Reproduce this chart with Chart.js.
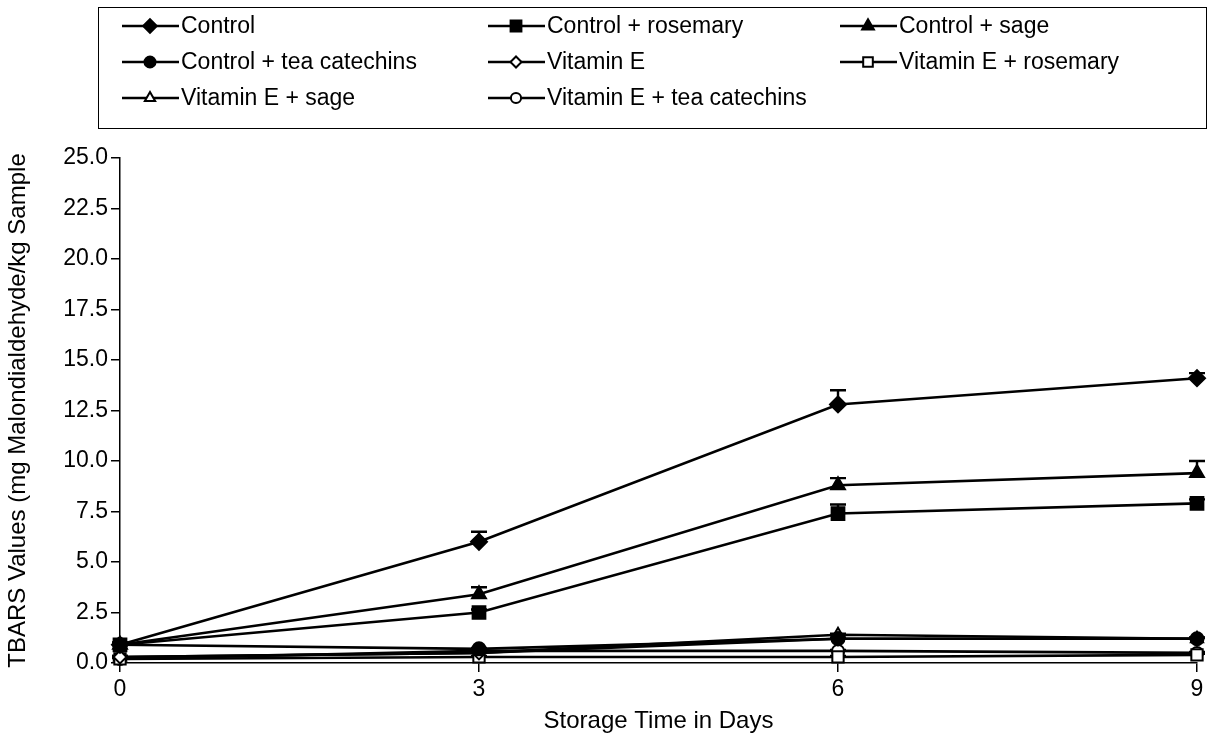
<!DOCTYPE html>
<html>
<head>
<meta charset="utf-8">
<script src="https://cdn.jsdelivr.net/npm/chart.js@4.4.1/dist/chart.umd.min.js"></script>
<style>
  html, body { margin:0; padding:0; background:#fff; }
  #wrap { width:1208px; height:738px; position:relative; }
</style>
</head>
<body>
<div id="wrap"><canvas id="c" width="1208" height="738"></canvas></div>
<script>
// storage days
const days = [0, 3, 6, 9];
const yTicks = [0, 2.5, 5, 7.5, 10, 12.5, 15, 17.5, 20, 22.5, 25];

// TBARS means
const control        = [0.9, 6.0, 12.8, 14.1];
const controlRos     = [0.9, 2.5, 7.4, 7.9];
const controlSage    = [0.9, 3.4, 8.8, 9.4];
const controlTea     = [0.9, 0.7, 1.2, 1.2];
const vitE           = [0.3, 0.5, 1.2, 1.2];
const vitERos        = [0.2, 0.3, 0.3, 0.4];
const vitESage       = [0.3, 0.5, 1.4, 1.2];
const vitETea        = [0.2, 0.6, 0.6, 0.5];

// upper error bars (SD)
const errControl     = [0.1, 0.5, 0.7, 0.25];
const errControlRos  = [0.1, 0.15, 0.45, 0.2];
const errControlSage = [0.1, 0.35, 0.35, 0.6];
const errSmall       = [0.05, 0.05, 0.05, 0.05];

const seriesNames = ['Control', 'Control + rosemary', 'Control + sage',
  'Control + tea catechins', 'Vitamin E', 'Vitamin E + rosemary',
  'Vitamin E + sage', 'Vitamin E + tea catechins'];

const FONT = '"Liberation Sans", Arial, sans-serif';

function mk(i, vals, errs, style, radius, filled) {
  return {
    label: seriesNames[i],
    data: days.map((d, k) => ({x: d, y: vals[k]})),
    errors: errs,
    clip: false,
    borderColor: '#000',
    borderWidth: 2.6,
    pointStyle: style,
    pointRadius: radius,
    pointHoverRadius: radius,
    pointBackgroundColor: filled ? '#000' : '#fff',
    pointBorderColor: '#000',
    pointBorderWidth: 2,
    tension: 0,
    fill: false
  };
}

const datasets = [
  mk(0, control, errControl, 'rectRot', 8, true),
  mk(1, controlRos, errControlRos, 'rect', 9, true),
  mk(2, controlSage, errControlSage, 'triangle', 8, true),
  mk(3, controlTea, errSmall, 'circle', 6.5, true),
  mk(4, vitE, errSmall, 'rectRot', 6.5, false),
  mk(5, vitERos, errSmall, 'rect', 8, false),
  mk(6, vitESage, errSmall, 'triangle', 7, false),
  mk(7, vitETea, errSmall, 'circle', 6, false)
];

// upward error bars with caps
const errorBars = {
  id: 'errorBars',
  beforeDatasetsDraw(chart) {
    const ctx = chart.ctx, ys = chart.scales.y, xs = chart.scales.x;
    ctx.save();
    ctx.strokeStyle = '#000';
    ctx.lineWidth = 2.4;
    chart.data.datasets.forEach(ds => {
      ds.data.forEach((p, k) => {
        const e = ds.errors[k];
        const px = xs.getPixelForValue(p.x);
        const y0 = ys.getPixelForValue(p.y);
        const y1 = ys.getPixelForValue(p.y + e);
        ctx.beginPath();
        ctx.moveTo(px, y0); ctx.lineTo(px, y1);
        ctx.moveTo(px - 8, y1); ctx.lineTo(px + 8, y1);
        ctx.stroke();
      });
    });
    ctx.restore();
  }
};

// boxed three-column legend on top
const boxLegend = {
  id: 'boxLegend',
  afterDraw(chart) {
    const ctx = chart.ctx;
    ctx.save();
    ctx.strokeStyle = '#000';
    ctx.lineWidth = 1;
    ctx.strokeRect(98.5, 7.5, 1108, 121);
    const cols = [122, 488, 840];
    const rows = [26, 62, 98];
    ctx.font = '23px ' + FONT;
    ctx.textBaseline = 'middle';
    chart.data.datasets.forEach((ds, i) => {
      const x = cols[i % 3], y = rows[Math.floor(i / 3)];
      ctx.strokeStyle = '#000';
      ctx.lineWidth = 2.6;
      ctx.beginPath(); ctx.moveTo(x, y); ctx.lineTo(x + 57, y); ctx.stroke();
      ctx.fillStyle = ds.pointBackgroundColor;
      ctx.lineWidth = 2;
      Chart.helpers.drawPoint(ctx, {pointStyle: ds.pointStyle, radius: ds.pointRadius * 0.85, rotation: 0, borderWidth: 2}, x + 28, y);
      ctx.fillStyle = '#000';
      ctx.fillText(ds.label, x + 59, y + 1);
    });
    ctx.restore();
  }
};

new Chart(document.getElementById('c'), {
  type: 'line',
  data: { datasets },
  plugins: [errorBars, boxLegend],
  options: {
    responsive: false,
    animation: false,
    events: [],
    layout: { padding: { top: 158, right: 8, left: 0, bottom: 0 } },
    plugins: { legend: { display: false }, tooltip: { enabled: false } },
    scales: {
      x: {
        type: 'linear', min: 0, max: 9,
        afterBuildTicks: s => { s.ticks = days.map(v => ({value: v})); },
        border: { color: '#000', width: 1.5 },
        grid: { drawOnChartArea: false, color: '#000', tickLength: 9, lineWidth: 1.5 },
        ticks: { color: '#000', font: { family: FONT, size: 23 }, padding: 4, maxRotation: 0 },
        title: { display: true, text: 'Storage Time in Days', color: '#000', font: { family: FONT, size: 24 }, padding: { top: -4, bottom: 2 } },
        afterFit: s => { s.height = 75; }
      },
      y: {
        min: 0, max: 25,
        afterBuildTicks: s => { s.ticks = yTicks.map(v => ({value: v})); },
        border: { color: '#000', width: 1.5 },
        grid: { drawOnChartArea: false, color: '#000', tickLength: 9, lineWidth: 1.5 },
        ticks: { color: '#000', font: { family: FONT, size: 23 }, padding: 3, callback: v => Number(v).toFixed(1) },
        title: { display: true, text: 'TBARS Values (mg Malondialdehyde/kg Sample', color: '#000', font: { family: FONT, size: 24 }, padding: { top: 4, bottom: 0 } },
        afterFit: s => { s.width = 120; }
      }
    }
  }
});
</script>
</body>
</html>
